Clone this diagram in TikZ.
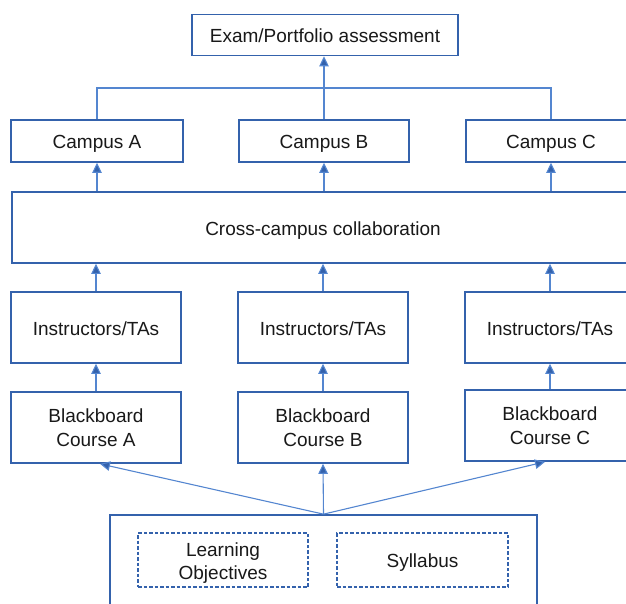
\documentclass[tikz,border=0pt]{standalone}
\usepackage{fontspec}
\setmainfont{Liberation Sans}
\usetikzlibrary{arrows.meta}
\definecolor{boxblue}{RGB}{52,98,172}
\definecolor{lineblue}{RGB}{84,134,208}
\definecolor{txt}{RGB}{25,25,25}
\begin{document}
\begin{tikzpicture}[x=1pt,y=-1pt,
  box/.style={draw=boxblue,line width=1.7pt,fill=white,text=txt,align=center,inner sep=0pt,
    font=\fontsize{19}{23.5}\selectfont},
  one/.style={text height=15.5pt,text depth=0pt},
  dbox/.style={box,line width=1.2pt,dash pattern=on 3.5pt off 2pt},
  conn/.style={draw=lineblue,line width=1.1pt},
  arr/.style={conn,-{Triangle[length=10pt,width=9.5pt,fill=boxblue]}}]
\clip (0,0) rectangle (626,604);
% nodes
\node[box,one,minimum width=266pt,minimum height=41pt] (exam) at (325,35) {Exam/Portfolio assessment};
\node[box,one,minimum width=172pt,minimum height=42pt] (campusA) at (97,141) {Campus A};
\node[box,one,minimum width=170pt,minimum height=42pt] (campusB) at (324,141) {Campus B};
\node[box,one,minimum width=170pt,minimum height=42pt] (campusC) at (551,141) {Campus C};
\node[box,minimum width=636pt,minimum height=71pt] (cross) at (330,227.5) {};
\node[one,text=txt,inner sep=0pt,font=\fontsize{19}{23.5}\selectfont] (crosstxt) at (323,227.5) {Cross-campus collaboration};
\node[box,one,minimum width=170pt,minimum height=71pt] (instA) at (96,327.5) {Instructors/TAs};
\node[box,one,minimum width=170pt,minimum height=71pt] (instB) at (323,327.5) {Instructors/TAs};
\node[box,one,minimum width=170pt,minimum height=71pt] (instC) at (550,327.5) {Instructors/TAs};
\node[box,minimum width=170pt,minimum height=71pt] (bbA) at (96,427.5) {Blackboard\\Course A};
\node[box,minimum width=170pt,minimum height=71pt] (bbB) at (323,427.5) {Blackboard\\Course B};
\node[box,minimum width=170pt,minimum height=71pt] (bbC) at (550,425.5) {Blackboard\\Course C};
\node[box,minimum width=427pt,minimum height=110pt] (base) at (323.5,570) {};
\node[dbox,minimum width=170pt,minimum height=54pt] (lo) at (223,560) {\raisebox{-7.5pt}[0pt][0pt]{\begin{tabular}{@{}c@{}}Learning\\Objectives\end{tabular}}};
\node[dbox,one,minimum width=171pt,minimum height=54pt] (syl) at (422.5,560) {Syllabus};
% top connector
\coordinate (j) at (323,88);
\draw[conn] (campusA.north) |- (campusC.north |- j) -- (campusC.north);
\draw[arr] (campusB.north) -- (campusB.north |- exam.south);
% cross -> campus
\draw[arr] (campusA.south |- cross.north) -- (campusA.south);
\draw[arr] (campusB.south |- cross.north) -- (campusB.south);
\draw[arr] (campusC.south |- cross.north) -- (campusC.south);
% inst -> cross
\draw[arr] (instA.north) -- (instA.north |- cross.south);
\draw[arr] (instB.north) -- (instB.north |- cross.south);
\draw[arr] (instC.north) -- (instC.north |- cross.south);
% bb -> inst
\draw[arr] (bbA.north) -- (instA.south);
\draw[arr] (bbB.north) -- (instB.south);
\draw[arr] (bbC.north) -- (instC.south);
% base -> bb
\draw[arr] (base.north) -- ([xshift=4pt]bbA.south);
\draw[arr] (base.north) -- (bbB.south);
\draw[arr] (base.north) -- ([xshift=-5pt]bbC.south);
\end{tikzpicture}
\end{document}
